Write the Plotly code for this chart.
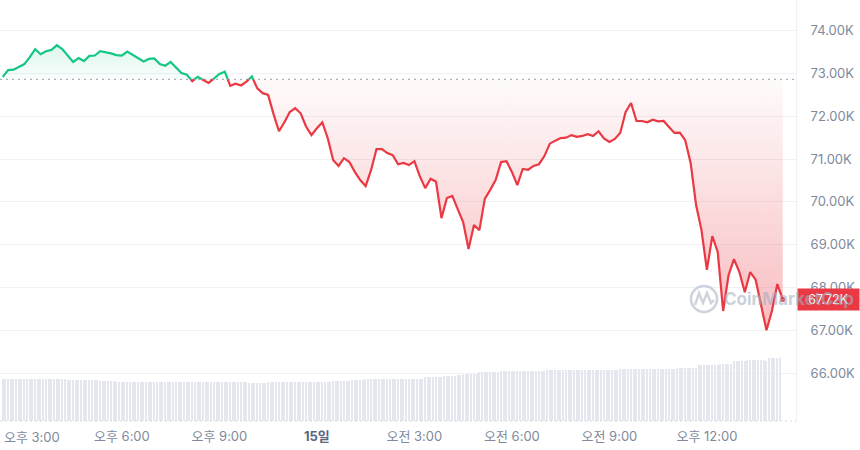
import pandas as pd
import plotly.graph_objects as go

# ---------------- data ----------------
price_start = "2024-03-14 14:20"
price_step = "10min"
price_k = [
    72.92, 73.08, 73.09, 73.16, 73.22, 73.38, 73.57, 73.45, 73.52, 73.55,
    73.66, 73.57, 73.43, 73.27, 73.36, 73.29, 73.41, 73.42, 73.52, 73.50,
    73.47, 73.43, 73.42, 73.51, 73.44, 73.36, 73.28, 73.34, 73.35, 73.22,
    73.18, 73.27, 73.14, 73.01, 72.97, 72.82, 72.92, 72.85, 72.78, 72.88,
    72.99, 73.04, 72.71, 72.76, 72.72, 72.81, 72.93, 72.65, 72.54, 72.50,
    72.05, 71.65, 71.86, 72.10, 72.19, 72.07, 71.76, 71.56, 71.72, 71.86,
    71.49, 70.98, 70.84, 71.02, 70.93, 70.70, 70.51, 70.37, 70.74, 71.23,
    71.23, 71.14, 71.09, 70.88, 70.91, 70.86, 70.95, 70.60, 70.32, 70.54,
    70.47, 69.62, 70.09, 70.14, 69.83, 69.53, 68.90, 69.46, 69.34, 70.07,
    70.28, 70.51, 70.93, 70.95, 70.70, 70.39, 70.77, 70.75, 70.84, 70.88,
    71.07, 71.36, 71.43, 71.49, 71.50, 71.56, 71.52, 71.54, 71.58, 71.54,
    71.65, 71.48, 71.40, 71.47, 71.61, 72.10, 72.31, 71.89, 71.89, 71.86,
    71.92, 71.88, 71.89, 71.75, 71.61, 71.62, 71.44, 70.91, 69.93, 69.34,
    68.41, 69.20, 68.83, 67.45, 68.29, 68.66, 68.36, 67.89, 68.36, 68.18,
    67.57, 67.00, 67.45, 68.08, 67.72,
]
baseline_k = 72.86

vol_start = "2024-03-14 14:20"
vol_step = "5min"
volume_b = [
    42.4, 42.4, 42.4, 42.4, 42.4, 42.4, 42.4, 42.4, 42.4, 42.4, 42.4, 42.4,
    42.4, 42.4, 42.4, 42.4, 42.4, 42.4, 42.4, 42.4, 42.4, 42.4, 42.4, 42.4,
    41.0, 41.0, 41.0, 41.0, 41.0, 41.0, 41.0, 41.0, 41.0, 41.0, 41.0, 41.0,
    40.0, 40.0, 40.0, 40.0, 40.0, 40.0, 39.0, 39.0, 39.0, 39.0, 39.0, 39.0,
    39.0, 39.0, 39.0, 39.0, 39.0, 39.0, 39.0, 39.0, 39.0, 39.0, 39.0, 39.0,
    39.0, 39.0, 39.0, 39.0, 39.0, 39.0, 39.0, 39.0, 39.0, 39.0, 39.0, 39.0,
    39.0, 39.0, 39.0, 39.0, 39.0, 39.0, 39.0, 39.0, 39.0, 39.0, 39.0, 39.0,
    39.0, 39.0, 39.0, 39.0, 39.0, 39.0, 39.0, 38.0, 38.0, 38.0, 38.0, 38.0,
    38.0, 38.0, 39.0, 39.0, 39.0, 39.0, 39.0, 39.0, 39.0, 39.0, 39.0, 39.0,
    39.0, 39.0, 39.0, 39.0, 39.0, 39.0, 39.0, 39.0, 39.0, 39.0, 39.0, 39.0,
    39.0, 39.0, 40.0, 40.0, 40.0, 40.0, 40.0, 40.0, 40.0, 41.0, 41.0, 41.0,
    41.0, 41.0, 42.4, 42.4, 42.4, 42.4, 42.4, 42.4, 42.4, 42.4, 42.4, 42.4,
    42.4, 42.4, 42.4, 42.4, 42.4, 42.4, 42.4, 42.4, 42.4, 42.4, 42.4, 42.4,
    43.7, 43.7, 43.7, 43.7, 43.7, 43.7, 43.7, 45.0, 45.0, 45.0, 45.0, 45.0,
    46.0, 46.0, 47.4, 47.4, 47.4, 47.4, 47.4, 47.4, 48.7, 48.7, 48.7, 48.7,
    48.7, 48.7, 48.7, 48.7, 50.4, 50.4, 50.4, 50.4, 50.4, 50.4, 50.4, 50.4,
    50.4, 50.4, 50.4, 50.4, 50.4, 50.4, 50.4, 50.4, 50.4, 51.0, 51.0, 51.0,
    51.0, 51.0, 51.0, 51.0, 51.0, 51.0, 51.0, 51.0, 51.0, 51.0, 51.0, 51.0,
    51.0, 51.0, 51.0, 51.0, 51.0, 51.0, 51.0, 51.0, 51.0, 51.0, 51.0, 51.0,
    52.0, 52.0, 52.0, 52.0, 52.0, 52.0, 52.0, 52.0, 52.0, 52.0, 52.0, 52.0,
    52.0, 52.0, 52.0, 52.0, 52.0, 52.0, 52.0, 52.0, 52.0, 53.4, 53.4, 53.4,
    53.4, 53.4, 53.4, 53.4, 53.4, 55.7, 55.7, 55.7, 55.7, 55.7, 55.7, 55.7,
    55.7, 57.4, 57.4, 57.4, 57.4, 57.4, 59.7, 59.7, 59.7, 59.7, 59.7, 61.4,
    61.4, 61.4, 61.4, 61.4, 61.4, 61.4, 60.0, 62.7, 62.7, 62.7, 62.7, 62.7,
]

tick_times = ["2024-03-14 15:00", "2024-03-14 18:00", "2024-03-14 21:00",
              "2024-03-15 00:00", "2024-03-15 03:00", "2024-03-15 06:00",
              "2024-03-15 09:00", "2024-03-15 12:00"]
tick_text = ["오후 3:00", "오후 6:00", "오후 9:00",
             "<span style='color:#58667e'><b>15일</b></span>",
             "오전 3:00", "오전 6:00", "오전 9:00", "오후 12:00"]
y_ticks = [66, 67, 68, 69, 70, 71, 72, 73, 74]
y_ticktext = [f"{v:.2f}K" for v in y_ticks]
x_range = ["2024-03-14 14:15", "2024-03-15 14:44:30"]

# ---------------- styles ----------------
GREEN = "#16c784"
RED = "#ea3943"
GRID = "#eff2f5"
TICK = "#808a9d"
FONT = "Inter, 'Noto Sans CJK KR', sans-serif"

# ---------------- build ----------------
base = baseline_k
t = pd.date_range(price_start, periods=len(price_k), freq=price_step)
vt = pd.date_range(vol_start, periods=len(volume_b), freq=vol_step)

# insert baseline crossing points so the colour switch is clean
pts_t, pts_p = [t[0]], [price_k[0]]
for i in range(1, len(price_k)):
    a, b = price_k[i - 1], price_k[i]
    if (a - base) * (b - base) < 0:
        f = (base - a) / (b - a)
        pts_t.append(t[i - 1] + (t[i] - t[i - 1]) * f)
        pts_p.append(base)
    pts_t.append(t[i])
    pts_p.append(b)

up = [p if p >= base else None for p in pts_p]
dn = [p if p <= base else None for p in pts_p]
up_fill = [max(p, base) for p in pts_p]
dn_fill = [min(p, base) for p in pts_p]
base_line = [base] * len(pts_p)

fig = go.Figure()

fig.add_trace(go.Bar(x=vt, y=volume_b, yaxis="y2", marker_color="#e4e8ee",
                     marker_line_width=0, width=300000 * 0.5,
                     hoverinfo="skip", showlegend=False))

fig.add_trace(go.Scatter(x=pts_t, y=base_line, mode="lines",
                         line=dict(width=0, color="rgba(0,0,0,0)"),
                         hoverinfo="skip", showlegend=False))
fig.add_trace(go.Scatter(
    x=pts_t, y=up_fill, mode="lines", line=dict(width=0, color="rgba(0,0,0,0)"),
    fill="tonexty",
    fillgradient=dict(type="vertical", start=base, stop=73.7,
                      colorscale=[[0, "rgba(22,199,132,0.02)"],
                                  [1, "rgba(22,199,132,0.16)"]]),
    hoverinfo="skip", showlegend=False))

fig.add_trace(go.Scatter(x=pts_t, y=base_line, mode="lines",
                         line=dict(width=0, color="rgba(0,0,0,0)"),
                         hoverinfo="skip", showlegend=False))
fig.add_trace(go.Scatter(
    x=pts_t, y=dn_fill, mode="lines", line=dict(width=0, color="rgba(0,0,0,0)"),
    fill="tonexty",
    fillgradient=dict(type="vertical", start=66.95, stop=base,
                      colorscale=[[0, "rgba(234,57,67,0.34)"],
                                  [1, "rgba(234,57,67,0.02)"]]),
    hoverinfo="skip", showlegend=False))

fig.add_trace(go.Scatter(x=pts_t, y=up, mode="lines", connectgaps=False,
                         line=dict(color=GREEN, width=2.2),
                         showlegend=False))
fig.add_trace(go.Scatter(x=pts_t, y=dn, mode="lines", connectgaps=False,
                         line=dict(color=RED, width=2.2),
                         showlegend=False))
fig.add_trace(go.Scatter(x=[t[-1]], y=[price_k[-1]], mode="markers",
                         marker=dict(color=RED, size=5), showlegend=False))

# pixel helpers for decorations (plot area 796 x 421 px)
def px(x):
    return x / 796.0

def py(y):
    return (421.0 - y) / 421.0

shapes = [
    dict(type="line", xref="paper", x0=0, x1=1, yref="y", y0=base, y1=base,
         line=dict(color="#a9b0bd", width=1.3, dash="2px,4px"), layer="below"),
    dict(type="line", xref="paper", x0=0, x1=1, yref="paper", y0=0, y1=0,
         line=dict(color="#d3d8e0", width=1, dash="2px,3px"), layer="above"),
    dict(type="circle", xref="paper", yref="paper",
         x0=px(691), x1=px(717), y0=py(312), y1=py(286),
         line=dict(color="rgba(165,175,195,0.55)", width=2.6)),
    dict(type="path", xref="paper", yref="paper",
         path=(f"M {px(695)},{py(305)} L {px(699)},{py(293)} L {px(703)},{py(303)} "
               f"L {px(707)},{py(293)} L {px(711)},{py(303)} L {px(714)},{py(300)}"),
         line=dict(color="rgba(165,175,195,0.55)", width=2.4)),
]

annotations = [
    # first time label, placed so it starts just inside the left edge
    dict(xref="paper", x=0, xanchor="left", xshift=2,
         yref="paper", y=0, yanchor="top", yshift=-6,
         text=tick_text[0], showarrow=False,
         font=dict(size=13, color=TICK, family=FONT)),
    dict(xref="paper", x=1, xanchor="left", xshift=1, yref="y", y=price_k[-1],
         text=f"{price_k[-1]:.2f}K", showarrow=False, bgcolor=RED,
         font=dict(color="white", size=12.5, family=FONT),
         width=57, height=17, borderpad=2),
    dict(xref="paper", x=px(722), xanchor="left", yref="paper", y=py(299),
         yanchor="middle", text="CoinMarketCap", showarrow=False,
         font=dict(color="rgba(165,175,195,0.6)", size=17, family=FONT,
                   weight=700)),
]

fig.update_layout(
    width=860, height=450,
    margin=dict(l=0, r=64, t=0, b=29, autoexpand=False),
    paper_bgcolor="white", plot_bgcolor="white",
    showlegend=False, bargap=0,
    font=dict(family=FONT, color=TICK),
    xaxis=dict(type="date", range=x_range, showgrid=False, zeroline=False,
               showline=False, tickvals=tick_times[1:], ticktext=tick_text[1:],
               tickfont=dict(size=13, color=TICK, family=FONT),
               ticks="", ticklabelstandoff=6, automargin=False,
               ticklabeloverflow="allow"),
    yaxis=dict(side="right", range=[64.879, 74.717], tickvals=y_ticks,
               ticktext=y_ticktext, showgrid=True, gridcolor=GRID,
               gridwidth=1, zeroline=False, showline=True, linecolor=GRID,
               ticks="", ticklabelstandoff=11, automargin=False,
               ticklabeloverflow="allow",
               tickfont=dict(size=13, color=TICK, family=FONT)),
    yaxis2=dict(overlaying="y", range=[0, 421], visible=False),
    shapes=shapes, annotations=annotations,
)

fig.write_html("out.html",
               config={"displayModeBar": False},
               post_script="document.body.style.margin='0';"
                           "document.body.style.padding='0';")
